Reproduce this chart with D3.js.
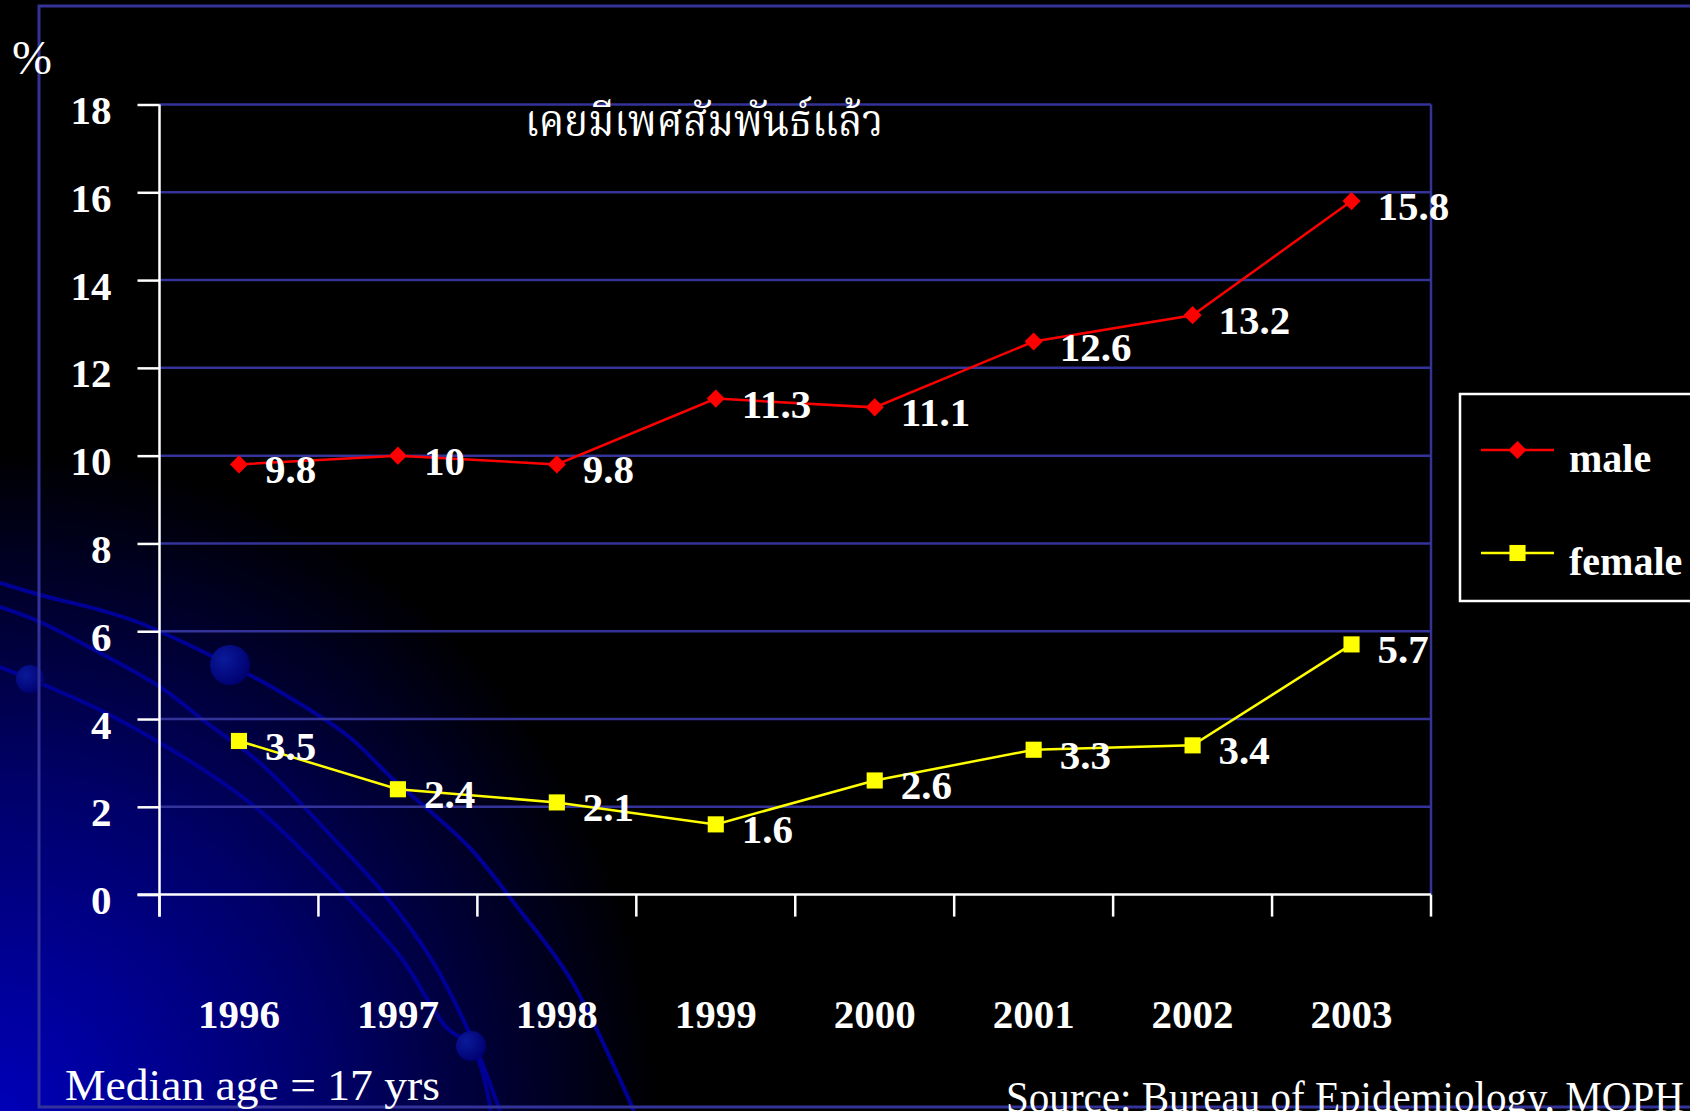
<!DOCTYPE html>
<html>
<head>
<meta charset="utf-8">
<script src="https://cdn.jsdelivr.net/npm/d3@7"></script>
<style>
  html, body { margin: 0; padding: 0; background: #000; overflow: hidden; }
  svg { display: block; }
  text { font-family: "Liberation Serif", "Times New Roman", serif; fill: #fff; }
</style>
</head>
<body>
<script>
// chart data
var years = ["1996", "1997", "1998", "1999", "2000", "2001", "2002", "2003"];
var male = [9.8, 10, 9.8, 11.3, 11.1, 12.6, 13.2, 15.8];
var female = [3.5, 2.4, 2.1, 1.6, 2.6, 3.3, 3.4, 5.7];
var yTicks = [0, 2, 4, 6, 8, 10, 12, 14, 16, 18];
var title = "เคยมีเพศสัมพันธ์แล้ว";

// slide decoration (arcs in the lower-left corner)
var decoCurves = [
  [[0,583],[40,595],[100,610],[140,623],[230,665],[277,690],[348,736],[393,779],[469,847],[518,908],[571,980],[634,1111]],
  [[0,607],[40,622],[100,653],[160,687],[207,723],[260,763],[335,840],[384,894],[433,962],[473,1041],[500,1111]],
  [[0,667],[30,679],[100,710],[167,747],[233,790],[267,817],[348,898],[402,959],[446,1027],[473,1048],[491,1111]]
];
var decoDots = [[230,665,20],[30,679,14],[471,1046,15]];

var width = 1690, height = 1111;
var margin = {left: 159.5, right: 1431, top: 104.5, bottom: 894.6};
var gridColor = "#33339a";

var svg = d3.select("body").append("svg")
    .attr("width", width)
    .attr("height", height);

var defs = svg.append("defs");
var bg = defs.append("radialGradient")
    .attr("id", "bgGrad")
    .attr("gradientUnits", "userSpaceOnUse")
    .attr("cx", 0).attr("cy", height).attr("r", 660);
bg.append("stop").attr("offset", "0%").attr("stop-color", "#0000b8");
bg.append("stop").attr("offset", "50%").attr("stop-color", "#000068");
bg.append("stop").attr("offset", "100%").attr("stop-color", "#000000");

var dotGrad = defs.append("radialGradient")
    .attr("id", "dotGrad")
    .attr("cx", "35%").attr("cy", "35%").attr("r", "70%");
dotGrad.append("stop").attr("offset", "0%").attr("stop-color", "#0a1a9a");
dotGrad.append("stop").attr("offset", "100%").attr("stop-color", "#000070");

svg.append("rect")
    .attr("width", width).attr("height", height)
    .attr("fill", "url(#bgGrad)");

var decoLine = d3.line().curve(d3.curveCatmullRom);
svg.selectAll(".deco")
    .data(decoCurves)
  .enter().append("path")
    .attr("class", "deco")
    .attr("d", decoLine)
    .attr("fill", "none")
    .attr("stroke", "#000096")
    .attr("stroke-width", 4);

svg.selectAll(".dot")
    .data(decoDots)
  .enter().append("circle")
    .attr("class", "dot")
    .attr("cx", function(d){ return d[0]; })
    .attr("cy", function(d){ return d[1]; })
    .attr("r", function(d){ return d[2]; })
    .attr("fill", "url(#dotGrad)");

// slide frame
svg.append("path")
    .attr("d", "M" + (width + 5) + ",6H39V1107H" + (width + 5))
    .attr("fill", "none")
    .attr("stroke", gridColor)
    .attr("stroke-width", 3);

var x = d3.scaleBand()
    .domain(years)
    .range([margin.left, margin.right]);

var y = d3.scaleLinear()
    .domain([0, 18])
    .range([margin.bottom, margin.top]);

// gridlines
svg.selectAll(".grid")
    .data(yTicks.slice(1))
  .enter().append("line")
    .attr("class", "grid")
    .attr("x1", margin.left).attr("x2", margin.right)
    .attr("y1", function(d){ return y(d); })
    .attr("y2", function(d){ return y(d); })
    .attr("stroke", gridColor)
    .attr("stroke-width", 2.5);

svg.append("line")
    .attr("x1", margin.right).attr("x2", margin.right)
    .attr("y1", margin.top).attr("y2", margin.bottom)
    .attr("stroke", gridColor)
    .attr("stroke-width", 2.5);

// y axis
var yAxis = d3.axisLeft(y)
    .tickValues(yTicks)
    .tickSize(22)
    .tickPadding(26)
    .tickFormat(d3.format("d"));

var gy = svg.append("g")
    .attr("transform", "translate(" + margin.left + ",0)")
    .call(yAxis);
gy.select(".domain").attr("stroke", "#fff").attr("stroke-width", 2.5)
    .attr("d", "M0," + margin.top + "V" + (margin.bottom + 22));
gy.selectAll(".tick line").attr("stroke", "#fff").attr("stroke-width", 2.5);
gy.selectAll(".tick text")
    .attr("fill", "#fff")
    .attr("dy", 19)
    .style("font-size", "41px")
    .style("font-weight", "bold");

// x axis
var xAxis = d3.axisBottom(x)
    .tickSize(0)
    .tickPadding(133);

var gx = svg.append("g")
    .attr("transform", "translate(0," + margin.bottom + ")")
    .call(xAxis);
gx.select(".domain").attr("stroke", "#fff").attr("stroke-width", 2.5)
    .attr("d", "M" + (margin.left - 22) + ",0H" + margin.right);
gx.selectAll(".tick text")
    .attr("fill", "#fff")
    .attr("dy", "0")
    .style("font-size", "41px")
    .style("font-weight", "bold");

var edges = years.map(function(d){ return x(d); }).concat([margin.right]);
gx.selectAll(".xedge")
    .data(edges)
  .enter().append("line")
    .attr("class", "xedge")
    .attr("x1", function(d){ return d; })
    .attr("x2", function(d){ return d; })
    .attr("y1", 0).attr("y2", 22)
    .attr("stroke", "#fff")
    .attr("stroke-width", 2.5);

// series
var cx = function(d, i){ return x(years[i]) + x.bandwidth() / 2; };
var line = d3.line()
    .x(function(d, i){ return cx(d, i); })
    .y(function(d){ return y(d); });

var series = [
  {name: "male", values: male, color: "#ff0000", symbol: d3.symbolDiamond2, size: 210},
  {name: "female", values: female, color: "#ffff00", symbol: d3.symbolSquare, size: 260}
];

series.forEach(function(s){
  svg.append("path")
    .datum(s.values)
    .attr("d", line)
    .attr("fill", "none")
    .attr("stroke", s.color)
    .attr("stroke-width", 2.5);

  svg.selectAll(".pt-" + s.name)
      .data(s.values)
    .enter().append("path")
      .attr("class", "pt-" + s.name)
      .attr("transform", function(d, i){ return "translate(" + cx(d, i) + "," + y(d) + ")"; })
      .attr("d", d3.symbol().type(s.symbol).size(s.size))
      .attr("fill", s.color);

  svg.selectAll(".lbl-" + s.name)
      .data(s.values)
    .enter().append("text")
      .attr("class", "lbl-" + s.name)
      .attr("x", function(d, i){ return cx(d, i) + 26; })
      .attr("y", function(d){ return y(d) + 19; })
      .style("font-size", "41px")
      .style("font-weight", "bold")
      .text(function(d){ return d; });
});

// title
svg.append("text")
    .attr("x", 525)
    .attr("y", 136)
    .attr("textLength", 358)
    .attr("lengthAdjust", "spacingAndGlyphs")
    .style("font-family", "'Noto Serif Thai', 'Noto Sans Thai', 'Liberation Serif', serif")
    .style("font-size", "44px")
    .text(title);

// % unit
svg.append("text")
    .attr("x", 12)
    .attr("y", 74)
    .style("font-size", "48px")
    .text("%");

// legend
var legend = svg.append("g").attr("class", "legend");
legend.append("rect")
    .attr("x", 1460).attr("y", 394)
    .attr("width", 260).attr("height", 207)
    .attr("fill", "#000")
    .attr("stroke", "#fff")
    .attr("stroke-width", 2.5);

var items = legend.selectAll(".legend-item")
    .data(series)
  .enter().append("g")
    .attr("class", "legend-item")
    .attr("transform", function(d, i){ return "translate(1481," + (450 + i * 103) + ")"; });
items.append("line")
    .attr("x1", 0).attr("x2", 73)
    .attr("stroke", function(d){ return d.color; })
    .attr("stroke-width", 2.5);
items.append("path")
    .attr("transform", "translate(36.5,0)")
    .attr("d", function(d){ return d3.symbol().type(d.symbol).size(d.size)(); })
    .attr("fill", function(d){ return d.color; });
items.append("text")
    .attr("x", 88)
    .attr("y", 22)
    .style("font-size", "40px")
    .style("font-weight", "bold")
    .text(function(d){ return d.name; });

// footnotes
svg.append("text")
    .attr("x", 65)
    .attr("y", 1100)
    .attr("textLength", 375)
    .attr("lengthAdjust", "spacingAndGlyphs")
    .style("font-size", "44px")
    .text("Median age = 17 yrs");

svg.append("text")
    .attr("x", 1006)
    .attr("y", 1112)
    .attr("textLength", 678)
    .attr("lengthAdjust", "spacingAndGlyphs")
    .style("font-size", "44px")
    .text("Source: Bureau of Epidemiology, MOPH");
</script>
</body>
</html>
